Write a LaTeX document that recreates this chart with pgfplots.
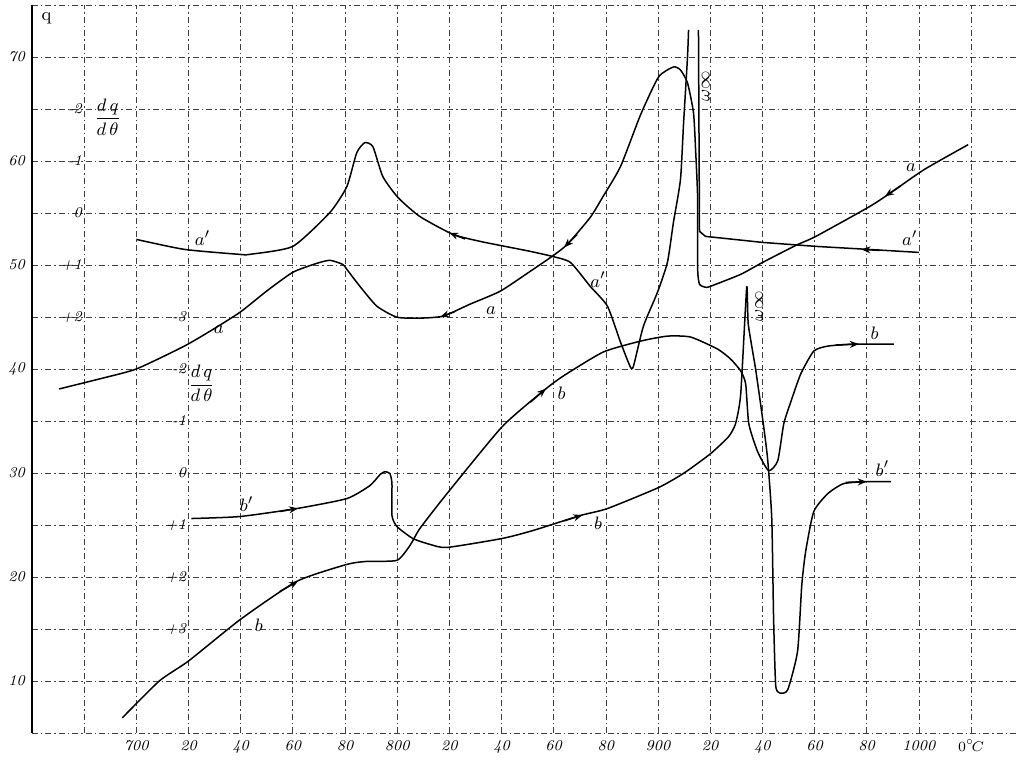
\documentclass[border=0pt]{standalone}
\usepackage{pgfplots}
\pgfplotsset{compat=1.18}
\usetikzlibrary{arrows.meta}
\begin{document}
\begin{tikzpicture}
\begin{axis}[name=ax, scale only axis, width=493pt, height=364pt,
  xmin=660, xmax=1038, ymin=5, ymax=75,
  axis line style={draw=none},
  xtick={680,700,...,1020},
  xticklabels={,700,20,40,60,80,800,20,40,60,80,900,20,40,60,80,1000,{$0^{\circ}\!C$}},
  ytick={5,10,...,75},
  yticklabels={,10,,20,,30,,40,,50,,60,,70,},
  tick label style={font=\fontsize{7.5}{8}\selectfont\itshape},
  major tick length=0pt,
  grid=major,
  grid style={black!75, line width=0.35pt, dash pattern=on 3pt off 1.5pt on 0.7pt off 1.5pt},
  clip=false,
  cycle list={{black}},
  every axis plot/.append style={black, line width=0.75pt, line join=round, no marks},
  curve/.style={black, smooth, tension=0.35},
  arr/.style={black, -{Stealth[length=4.5pt,width=3.5pt]}},
]
\draw[line width=0.8pt] (rel axis cs:0,0) -- (rel axis cs:0,1);

% curve a (q)
\addplot[curve] coordinates {
(670.4,38.08)(685.8,39.04)(700,40.0)(718.4,42.2)(730,43.9)(740,45.5)(750,47.5)(760.0,49.30)(769.2,50.16)(774.2,50.45)(779.1,50.06)(780.7,49.58)(785.7,47.95)(792.2,46.04)(799.9,44.98)(808.7,44.89)(817.6,45.08)(827.9,46.23)(839.5,47.48)(851.0,49.39)(859.4,50.83)(865.2,51.98)(874.0,54.57)(878.7,56.49)(885.6,59.46)(893.3,64.44)(900.2,68.08)(905.9,69.04)(908.6,68.75)(911.3,67.51)(913.6,64.63)(914.4,61.09)(915.2,56.29)(915.2,49.58)(915.9,48.15)(918.2,47.86)(920.1,47.95)(931.7,49.10)(940.1,50.25)(952.8,51.88)(960.5,52.75)(980.5,55.53)(988.2,56.77)(1002.0,59.17)(1018.9,61.57)};
% curve a' (dq/dtheta), left part
\addplot[curve] coordinates {
(700,52.46)(718.4,51.50)(739.6,51.02)(743.4,51.02)(760.0,51.79)(774.2,55.05)(780.7,57.54)(784.5,60.80)(787.6,61.76)(790.7,61.37)(794.5,58.50)(800.3,56.49)(808.7,54.66)(821.4,52.94)(831.8,52.27)(839.5,51.88)(851.0,51.31)(859.4,50.83)(866.4,50.25)(874.0,47.95)(880.6,46.04)(885.6,42.59)(889.4,40.19)(890.6,40.29)(894.4,44.12)(899.8,47.38)(903.6,50.25)(905.9,54.09)(908.6,58.21)(909.8,63.67)(911.3,70)(911.7,72.6)};
% curve a' right part
\addplot[black] coordinates {
(915.5,72.6)(915.9,53.23)(918.2,52.75)(940.1,52.17)(960.5,51.79)(980.5,51.50)(1000.0,51.21)};
% curve b (q)
\addplot[curve] coordinates {
(694.6,6.45)(708.8,10.0)(720.0,11.92)(740.0,15.94)(761.5,19.58)(780.7,21.21)(788.4,21.50)(799.9,21.60)(804.9,23.03)(808.7,24.66)(819.1,28.02)(840.2,34.44)(856.0,37.89)(863.7,39.33)(879.0,41.63)(893.3,42.68)(903.6,43.16)(912.5,43.07)(922.8,41.92)(927.8,40.96)(931.7,39.81)(933.6,38.56)(934.8,34.73)(938.2,32.04)(942.4,30.22)(945.9,31.18)(948.2,34.73)(950.9,36.84)(954.7,39.52)(959.7,41.72)(965.1,42.20)(975.1,42.39)(990.4,42.39)};
% curve b' (dq/dtheta)
\addplot[curve] coordinates {
(721.1,25.62)(739.6,25.81)(761.5,26.58)(780.7,27.54)(789.5,28.78)(793.4,29.84)(795.3,30.13)(797.2,29.94)(798.0,28.98)(798.0,25.91)(799.9,24.85)(806.0,23.70)(812.6,23.13)(819.1,22.84)(840.2,23.70)(852.1,24.47)(870.2,25.91)(880.6,26.58)(900.2,28.6)(910,30.0)(920.1,31.85)(927.0,33.48)(929.7,34.73)(931.7,37.60)(934.0,47.86)(934.6,44.3)(937.4,40.00)(940.1,35.21)(942.0,31.37)(943.6,25.62)(944.3,16.04)(945.1,9.61)(946.6,8.85)(949.7,9.14)(953.5,12.87)(955.1,19.20)(956.6,22.46)(959.7,26.29)(965.1,28.02)(971.2,28.98)(980.5,29.17)(989.3,29.17)};

% arrows along the curves
\addplot[arr] coordinates {(993,57.6)(987,56.6)};
\addplot[arr] coordinates {(869,52.95)(864,51.7)};
\addplot[arr] coordinates {(822,45.5)(816.5,45.0)};
\addplot[arr] coordinates {(826,52.5)(820,53.1)};
\addplot[arr] coordinates {(985,51.4)(978,51.5)};
\addplot[arr] coordinates {(755,18.6)(762,19.6)};
\addplot[arr] coordinates {(851,36.8)(857,38.1)};
\addplot[arr] coordinates {(968,42.3)(977,42.4)};
\addplot[arr] coordinates {(864,25.4)(871,25.95)};
\addplot[arr] coordinates {(755,26.3)(762,26.6)};
\addplot[arr] coordinates {(972,29.1)(980,29.17)};

% curve labels
\begin{scope}[every node/.style={font=\fontsize{9.5}{10}\selectfont}]
\node at (axis cs:725.4,52.6) {$a'$};
\node at (axis cs:731.6,43.8) {$a$};
\node at (axis cs:836,45.6) {$a$};
\node at (axis cs:877,48.6) {$a'$};
\node at (axis cs:997,59.4) {$a$};
\node at (axis cs:996.5,52.6) {$a'$};
\node at (axis cs:742.3,27.0) {$b'$};
\node at (axis cs:747,15.4) {$b$};
\node at (axis cs:863,37.7) {$b$};
\node at (axis cs:877,25.2) {$b$};
\node at (axis cs:983,43.4) {$b$};
\node at (axis cs:986,30.4) {$b'$};
\node[rotate=90] at (axis cs:918.3,67.2) {$\omega\infty$};
\node[rotate=90] at (axis cs:938.8,46.0) {$\omega\infty$};
\node[anchor=north west, font=\fontsize{9}{10}\selectfont] at (axis cs:661,75) {q};
\node at (axis cs:689,64.2) {$\displaystyle\frac{d\,q}{d\,\theta}$};
\node at (axis cs:725,38.6) {$\displaystyle\frac{d\,q}{d\,\theta}$};
\end{scope}

% inner dq/dtheta scales
\begin{scope}[every node/.style={anchor=east, inner sep=1pt, font=\fontsize{7.5}{8}\selectfont\itshape}]
\node at (axis cs:680,65) {-2};
\node at (axis cs:680,60) {-1};
\node at (axis cs:680,55) {0};
\node at (axis cs:680,50) {+1};
\node at (axis cs:680,45) {+2};
\node at (axis cs:720,45) {-3};
\node at (axis cs:720,40) {-2};
\node at (axis cs:720,35) {-1};
\node at (axis cs:720,30) {0};
\node at (axis cs:720,25) {+1};
\node at (axis cs:720,20) {+2};
\node at (axis cs:720,15) {+3};
\end{scope}
\end{axis}
\pgfresetboundingbox
\path ([shift={(-16pt,-14pt)}]ax.south west) rectangle ([shift={(0pt,2.5pt)}]ax.north east);
\end{tikzpicture}
\end{document}
